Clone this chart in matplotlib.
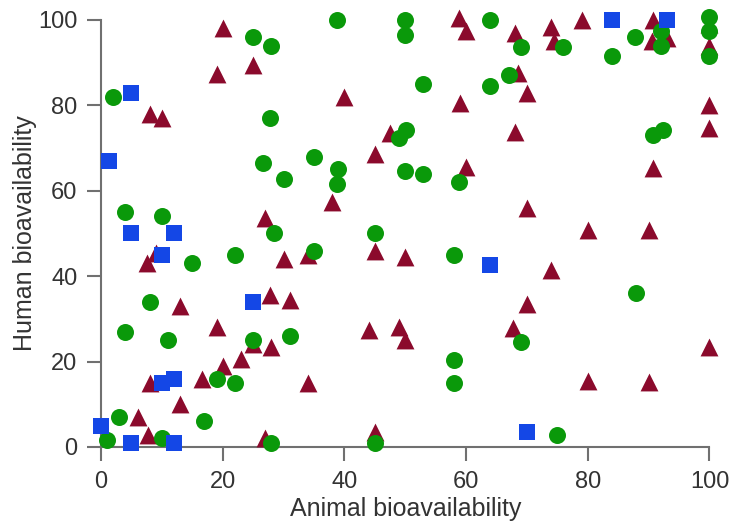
import matplotlib.pyplot as plt

plt.rcParams['font.family'] = ['Liberation Sans', 'DejaVu Sans']

# triangles (dark red)
tri_x = [20, 25, 19, 8, 10, 27, 7.6, 9, 30, 27.7, 31, 13, 19, 20, 23, 25, 28, 16.6, 8, 13, 6, 7.7, 27,
         34, 45, 50, 44, 49, 50, 34, 45, 80, 90, 74, 70, 67.7, 100, 80, 90,
         40, 59, 47.5, 45, 60, 38, 58.8, 60, 68, 74, 74.5, 79, 90.7, 90.5, 93, 100, 100,
         68.5, 70, 100, 68, 100, 90.7, 70]
tri_y = [98, 89.5, 87.4, 78, 77, 53.6, 43, 45.4, 44, 35.6, 34.4, 33, 28, 19, 20.6, 24, 23.5, 16, 15, 10, 7, 2.8, 2,
         45, 46, 44.5, 27.4, 28, 25, 15, 3.5, 50.8, 50.8, 41.5, 33.5, 27.8, 23.4, 15.5, 15.3,
         82, 80.6, 73.5, 68.6, 65.6, 57.4, 100.5, 97.5, 97, 98.4, 95, 100, 100, 95, 95.8, 99, 94,
         87.6, 83, 80, 73.8, 74.7, 65.3, 56]

# circles (green)
circ_x = [2, 4, 4, 10, 11, 15, 8, 22, 19, 22, 3, 1, 10, 17, 25, 31, 28, 28.4, 25, 28, 27.8, 26.6, 30,
          35, 45, 58, 58, 58, 45, 88, 69, 75,
          38.8, 50, 50, 64, 67, 64, 53, 50.2, 49, 35, 39, 38.8, 50, 53, 58.8,
          69, 76, 87.7, 84, 92, 92, 100, 100, 100, 90.7, 92.3]
circ_y = [82, 55, 27, 54, 25, 43, 34, 45, 16, 15, 7, 1.6, 2, 6, 25, 26, 1, 50, 96, 94, 77, 66.5, 62.8,
          46, 50, 45, 20.4, 15, 1, 36, 24.6, 2.8,
          100, 100, 96.5, 100, 87, 84.5, 85, 74.2, 72.4, 68, 65, 61.6, 64.7, 64, 62,
          93.6, 93.7, 96, 91.6, 97.5, 94, 100.7, 97.3, 91.5, 73, 74.2]

# squares (blue)
sq_x = [1.3, 5, 5, 10, 12, 10, 12, 0, 5, 12, 25, 64, 70, 84, 93]
sq_y = [67, 83, 50, 45, 50, 15, 16, 5, 1, 1, 34, 42.5, 3.5, 100, 100]

fig = plt.figure(figsize=(7.34, 5.24), dpi=100)
ax = fig.add_axes([0.1376, 0.147, 0.829, 0.815])

ax.scatter(tri_x, tri_y, marker='^', s=165, color='#8b0a2c', clip_on=False, zorder=3, linewidths=0)
ax.scatter(circ_x, circ_y, marker='o', s=150, color='#0a990a', clip_on=False, zorder=4, linewidths=0)
ax.scatter(sq_x, sq_y, marker='s', s=130, color='#1447e6', clip_on=False, zorder=5, linewidths=0)

ax.set_xlim(0, 100)
ax.set_ylim(0, 100)
ax.set_xticks([0, 20, 40, 60, 80, 100])
ax.set_yticks([0, 20, 40, 60, 80, 100])
for side in ['top', 'right']:
    ax.spines[side].set_visible(False)
for side in ['left', 'bottom']:
    ax.spines[side].set_color('#707070')
    ax.spines[side].set_linewidth(1.5)
ax.tick_params(direction='out', length=10, width=1.5, color='#707070',
               labelcolor='#333333', labelsize=17, pad=7)
ax.set_xlabel('Animal bioavailability', fontsize=18, labelpad=3, color='#333333')
ax.set_ylabel('Human bioavailability', fontsize=18, labelpad=1, color='#333333')

fig.savefig('out.png', dpi=100)
